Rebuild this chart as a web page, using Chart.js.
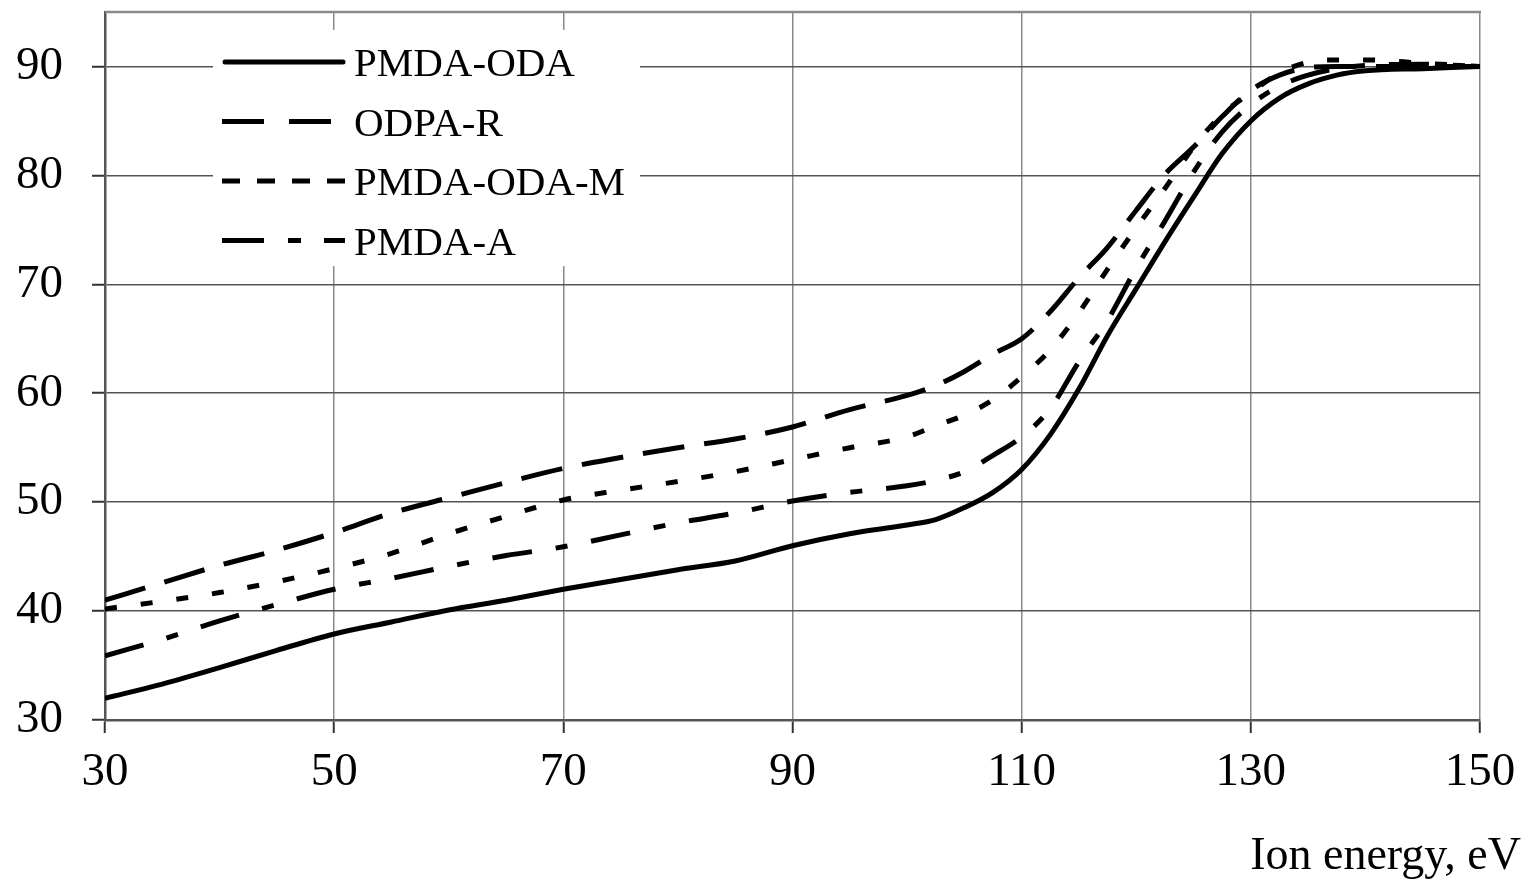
<!DOCTYPE html>
<html><head><meta charset="utf-8">
<script src="https://cdn.jsdelivr.net/npm/chart.js@4.4.1/dist/chart.umd.min.js"></script>
<style>html,body{margin:0;padding:0;background:#fff;overflow:hidden;}</style>
</head><body>
<canvas id="c" width="1532" height="886"></canvas>
<script>
// ---- data ----
const energies = [30,35,40,45,50,55,60,65,70,75,80,85,90,95,100,102.5,105,107.5,110,112.5,115,117.5,120,122.5,125,127.5,130,132.5,135,137.5,140,145,150];
const pmdaOda  = [32.0,33.3,34.8,36.4,37.9,39.0,40.1,41.0,42.0,42.9,43.8,44.6,46.0,47.1,47.9,48.4,49.5,50.9,53.0,56.2,60.4,65.3,69.6,73.9,78.0,82.0,85.0,87.1,88.4,89.2,89.6,89.8,90.0];
const odpaR    = [41.0,42.6,44.2,45.6,47.2,49.0,50.4,51.8,53.1,54.1,55.0,55.8,56.9,58.5,59.8,60.7,62.0,63.6,65.0,67.5,70.6,73.4,76.8,80.1,82.6,85.4,87.8,89.2,89.9,90.0,90.0,90.0,90.0];
const pmdaOdaM = [40.2,40.9,41.7,42.7,43.9,45.3,47.1,48.7,50.2,51.1,51.9,52.8,53.9,55.0,56.0,57.0,58.0,59.4,61.5,64.0,67.4,71.4,75.2,78.8,82.6,85.6,87.6,89.4,90.4,90.6,90.6,90.3,90.0];
const pmdaA    = [35.9,37.4,39.1,40.6,42.0,43.0,44.1,45.1,45.9,47.0,48.1,49.0,50.1,50.9,51.5,52.0,52.8,54.3,56.0,58.6,62.9,66.7,71.5,75.8,80.3,84.0,86.5,88.2,89.2,89.8,90.1,90.2,90.0];
const seriesNames = ['PMDA-ODA','ODPA-R','PMDA-ODA-M','PMDA-A'];
const xAxisTitle = 'Ion energy, eV';

// ---- styles ----
const FONT = '"Liberation Serif", "Times New Roman", serif';
const dashes = [[], [42,20], [12,24], [40,24,12,24]];
const legendDashes = [[], [42,25], [18,17], [42,24,13,23]];
const seriesValues = [pmdaOda, odpaR, pmdaOdaM, pmdaA];

const datasets = seriesValues.map((vals, i) => ({
  label: seriesNames[i],
  data: energies.map((e, k) => ({x: e, y: vals[k]})),
  borderColor: '#000',
  borderWidth: 5,
  borderDash: dashes[i],
  borderCapStyle: 'butt',
  pointRadius: 0,
  fill: false,
  cubicInterpolationMode: 'monotone'
}));

const framePlugin = {
  id: 'frame',
  afterDraw(chart) {
    const {ctx, chartArea: a} = chart;
    ctx.save();
    // top border
    ctx.strokeStyle = '#8a8a8a';
    ctx.lineWidth = 2.5;
    ctx.beginPath();
    ctx.moveTo(a.left, a.top);
    ctx.lineTo(a.right + 1, a.top);
    ctx.stroke();
    // legend box
    ctx.fillStyle = '#fff';
    ctx.fillRect(213, 30, 427, 236);
    seriesNames.forEach((name, i) => {
      const y = 62 + i * 59.5;
      ctx.setLineDash(legendDashes[i]);
      ctx.lineCap = i === 0 ? 'round' : 'butt';
      ctx.strokeStyle = '#000';
      ctx.lineWidth = 5;
      ctx.beginPath();
      ctx.moveTo(i === 0 ? 225 : 222, y);
      ctx.lineTo(i === 0 ? 343 : 345, y);
      ctx.stroke();
      ctx.setLineDash([]);
      ctx.fillStyle = '#000';
      ctx.font = '41px ' + FONT;
      ctx.textAlign = 'left';
      ctx.textBaseline = 'alphabetic';
      ctx.fillText(name, 354, y + 14);
    });
    // x axis title
    ctx.font = '46px ' + FONT;
    ctx.textAlign = 'right';
    ctx.textBaseline = 'alphabetic';
    ctx.fillStyle = '#000';
    ctx.fillText(xAxisTitle, 1521, 869);
    ctx.restore();
  }
};

new Chart(document.getElementById('c'), {
  type: 'line',
  data: {datasets},
  plugins: [framePlugin],
  options: {
    responsive: false,
    animation: false,
    devicePixelRatio: 1,
    layout: {padding: {top: 12, right: 52, left: 0, bottom: 0}},
    plugins: {legend: {display: false}, tooltip: {enabled: false}},
    scales: {
      x: {
        type: 'linear', min: 30, max: 150,
        ticks: {stepSize: 20, color: '#000', font: {family: FONT, size: 47}, padding: 11, maxRotation: 0, autoSkip: false},
        grid: {color: '#8a8a8a', lineWidth: 1.5, tickLength: 13, tickColor: '#333', tickWidth: 2},
        border: {color: '#555', width: 2.5},
        afterFit(s) { s.height = 166; s.paddingLeft = 0; s.paddingRight = 0; }
      },
      y: {
        type: 'linear', min: 30, max: 95,
        ticks: {stepSize: 10, color: '#000', font: {family: FONT, size: 47}, padding: 29},
        grid: {color: '#555', lineWidth: 1.5, tickLength: 13, tickColor: '#333', tickWidth: 2},
        border: {color: '#555', width: 2.5},
        afterBuildTicks(s) { s.ticks = s.ticks.filter(t => t.value <= 90); },
        afterFit(s) { s.width = 105; s.paddingTop = 0; s.paddingBottom = 0; }
      }
    }
  }
});
</script>
</body></html>
